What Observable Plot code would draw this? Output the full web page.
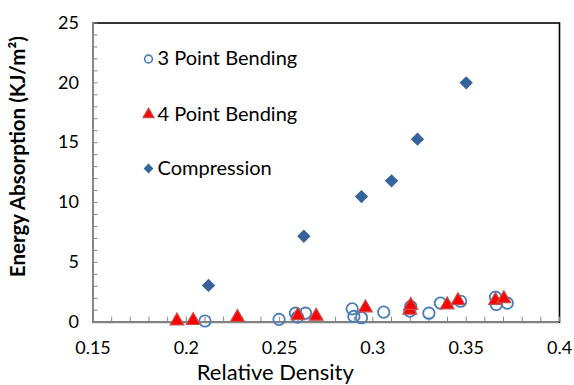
<!DOCTYPE html>
<html>
<head>
<meta charset="utf-8">
<script src="https://cdn.jsdelivr.net/npm/d3@7"></script>
<script src="https://cdn.jsdelivr.net/npm/@observablehq/plot@0.6"></script>
<style>
  html, body { margin: 0; padding: 0; background: #fff; }
  #chart { width: 574px; height: 385px; overflow: hidden; }
</style>
</head>
<body>
<div id="chart"></div>
<script>
// 3 Point Bending (open circles)
const bend3X = [0.210, 0.2497, 0.2585, 0.2639, 0.2596, 0.2889, 0.2898, 0.2939, 0.3058, 0.3203, 0.3198, 0.3300, 0.3362, 0.3470, 0.3657, 0.3661, 0.3720];
const bend3Y = [0.10, 0.23, 0.75, 0.75, 0.42, 1.12, 0.48, 0.37, 0.84, 1.31, 0.92, 0.75, 1.59, 1.75, 2.09, 1.48, 1.59];
// 4 Point Bending (red triangles)
const bend4X = [0.1950, 0.2037, 0.2274, 0.2598, 0.2696, 0.2960, 0.3198, 0.3203, 0.3398, 0.3456, 0.3657, 0.3702];
const bend4Y = [0.10, 0.14, 0.40, 0.54, 0.50, 1.20, 1.00, 1.40, 1.45, 1.80, 1.82, 1.96];
// Compression (diamonds)
const compX = [0.2119, 0.2630, 0.2939, 0.3100, 0.3239, 0.3500];
const compY = [3.07, 7.18, 10.50, 11.81, 15.29, 20.00];

const xTicks = [0.15, 0.2, 0.25, 0.3, 0.35, 0.4];
const yTicks = [0, 5, 10, 15, 20, 25];
const xMinorTicks = d3.range(15, 41).map(d => d / 100);
const yMinorTicks = d3.range(0, 26);

const seriesNames = ["3 Point Bending", "4 Point Bending", "Compression"];

const pts = (xs, ys) => xs.map((x, i) => ({x, y: ys[i]}));
const bend3 = pts(bend3X, bend3Y);
const bend4 = pts(bend4X, bend4Y);
const comp = pts(compX, compY);

const W = 574, H = 385;
const mL = 92.5, mR = 15, mT = 22.5, mB = 63.3;
const pw = W - mL - mR, ph = H - mT - mB;
const FONT = "Lato, 'Open Sans', sans-serif";

const circleStyle = {symbol: "circle", r: 5.7, fill: "none", stroke: "#4a7ebb", strokeWidth: 1.8};
const triangleStyle = {symbol: "triangle", r: 5.1, fill: "#ff0000", stroke: "#c0504d", strokeWidth: 1.2};
const diamondStyle = {symbol: "diamond2", r: 6, fill: "#36639c", stroke: "none"};

const legendRows = [
  {name: seriesNames[0], style: {...circleStyle, r: 3.9, strokeWidth: 1.6}, dy: 36},
  {name: seriesNames[1], style: {...triangleStyle, r: 4.1}, dy: 91.5},
  {name: seriesNames[2], style: {...diamondStyle, r: 4.4}, dy: 145.5}
];

const legendMarks = legendRows.flatMap(row => [
  Plot.dot([row.name], {frameAnchor: "top-left", dx: 55.5, dy: row.dy, ...row.style}),
  Plot.text([row.name], {frameAnchor: "top-left", dx: 64.5, dy: row.dy, text: d => d, textAnchor: "start", lineAnchor: "middle", fontSize: 20, fill: "#000"})
]);

const chart = Plot.plot({
  width: W,
  height: H,
  marginLeft: mL,
  marginRight: mR,
  marginTop: mT,
  marginBottom: mB,
  style: {fontFamily: FONT, background: "#fff", overflow: "visible"},
  x: {domain: [0.15, 0.4]},
  y: {domain: [0, 25]},
  marks: [
    Plot.frame({stroke: "#000", strokeWidth: 1.6}),
    // inward minor ticks
    Plot.tickY(yMinorTicks, {y: d => d, insetRight: pw - 5, stroke: "#868686", strokeWidth: 1}),
    Plot.tickX(xMinorTicks, {x: d => d, insetTop: ph - 5, stroke: "#868686", strokeWidth: 1}),
    // axis lines
    Plot.ruleX([0.15], {stroke: "#868686", strokeWidth: 2}),
    Plot.ruleY([0], {stroke: "#868686", strokeWidth: 2}),
    Plot.axisY(yTicks, {tickSize: 0, tickPadding: 14, fontSize: 18, fill: "#000", label: null, tickFormat: d => String(d)}),
    Plot.axisX(xTicks, {tickSize: 0, tickPadding: 19, fontSize: 18, fill: "#000", label: null, tickFormat: d => String(d)}),
    Plot.text(["Energy Absorption (KJ/m²)"], {frameAnchor: "left", dx: -74.5, dy: -16, rotate: -90, textAnchor: "middle", lineAnchor: "middle", text: d => d, fontSize: 20.5, fontWeight: "bold", fill: "#000"}),
    Plot.text(["Relative Density"], {frameAnchor: "bottom", dx: -51, dy: 58, text: d => d, fontSize: 22, fill: "#000"}),
    // data
    Plot.dot(bend3, {x: "x", y: "y", ...circleStyle}),
    Plot.dot(bend4, {x: "x", y: "y", ...triangleStyle}),
    Plot.dot(comp, {x: "x", y: "y", ...diamondStyle}),
    ...legendMarks
  ]
});
document.getElementById("chart").append(chart);
</script>
</body>
</html>
